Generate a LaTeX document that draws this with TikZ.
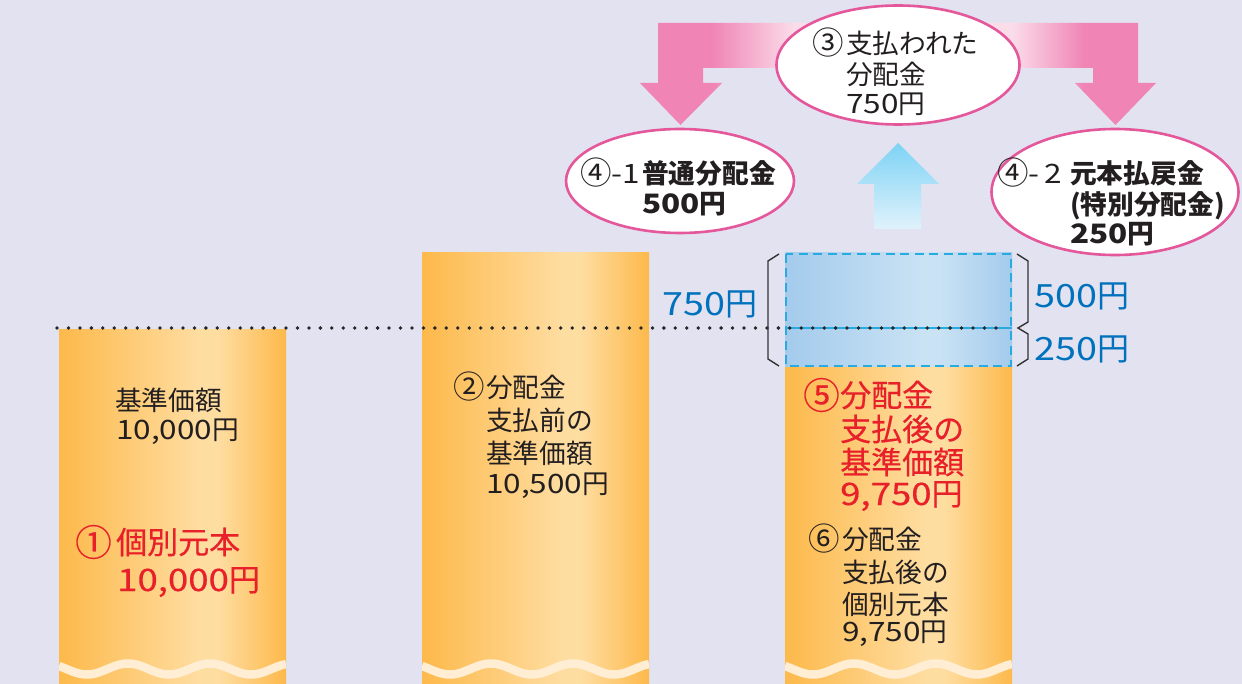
\documentclass[tikz,border=0pt]{standalone}
\usepackage{graphicx}
\usepackage{fontspec}
\setmainfont{Noto Sans CJK JP}
\newfontfamily\jpmed{Noto Sans CJK JP}[FakeBold=0.45]
\usetikzlibrary{shapes.geometric}
\definecolor{bg}{HTML}{E2E2F0}
\definecolor{orE}{HTML}{FDB94B}
\definecolor{orC}{HTML}{FEDDA1}
\definecolor{blE}{HTML}{A4CBEC}
\definecolor{blC}{HTML}{C9E2F4}
\definecolor{pkA}{HTML}{F085B5}
\definecolor{pkL}{HTML}{FBDDEA}
\definecolor{pkB}{HTML}{E4579A}
\definecolor{upT}{HTML}{7DD3F5}
\definecolor{upB}{HTML}{E0F2FB}
\definecolor{cyanl}{HTML}{29ABE2}
\definecolor{ink}{HTML}{231F20}
\definecolor{redt}{HTML}{E8202A}
\definecolor{bluet}{HTML}{0071BC}
\definecolor{wavec}{HTML}{FFEED3}
\newcommand\dg[1]{\scalebox{1.18}[1]{#1}}
\newcommand\cn[1]{\raisebox{-0.07em}{\scalebox{1.18}{#1}}}
\pgfdeclarehorizontalshading{colshade}{100bp}{color(0bp)=(orE); color(25bp)=(orE); color(56bp)=(orC); color(60bp)=(orC); color(75bp)=(orE); color(100bp)=(orE)}
\pgfdeclarehorizontalshading{blshade}{100bp}{color(0bp)=(blE); color(25bp)=(blE); color(55bp)=(blC); color(59bp)=(blC); color(75bp)=(blE); color(100bp)=(blE)}
\pgfdeclarehorizontalshading{pkshade}{100bp}{color(0bp)=(pkA); color(32bp)=(pkA); color(40bp)=(pkL); color(61bp)=(pkL); color(68bp)=(pkA); color(100bp)=(pkA)}
\tikzset{
  colbox/.style={shading=colshade, draw=none},
  blbox/.style={shading=blshade, draw=none},
  oval/.style={ellipse, draw=pkB, line width=2.6pt, fill=white, inner sep=0pt},
  wave/.style={draw=wavec, line width=8.5pt},
  dotline/.style={draw=black!85, line width=3.8pt, line cap=round, dash pattern=on 0pt off 11.45pt},
  brace/.style={draw=black!80, line width=1.4pt, line join=miter},
  txt/.style={anchor=west, inner sep=0pt, text=ink, font=\fontsize{26.7}{26.7}\selectfont},
  txb/.style={txt, font=\fontsize{26.7}{26.7}\selectfont\bfseries},
  rtx/.style={anchor=west, inner sep=0pt, text=redt, font=\fontsize{31}{31}\selectfont\jpmed},
  btx/.style={anchor=west, inner sep=0pt, text=bluet, font=\fontsize{32}{32}\selectfont},
}
\begin{document}
\begin{tikzpicture}[x=1pt,y=-1pt]
\useasboundingbox (0,0) rectangle (1242,684);
\fill[bg] (0,0) rectangle (1242,684);

% pink split arrow
\path[shading=pkshade] (658,23) -- (1138,23) -- (1138,83) -- (1156,83) -- (1115.5,125) -- (1075,83) -- (1093,83) -- (1093,68)
  -- (703,68) -- (703,83) -- (722,83) -- (680.5,125) -- (640,83) -- (658,83) -- cycle;

% ellipses
\node[oval, minimum width=243pt, minimum height=119pt] (top) at (898,65) {};
\node[oval, minimum width=228pt, minimum height=104pt] (left) at (680,181) {};
\node[oval, minimum width=247pt, minimum height=126pt] (right) at (1115,192) {};

% up arrow
\path[top color=upT, bottom color=upB] (898,143) -- (939,184) -- (921,184) -- (921,229) -- (874,229) -- (874,184) -- (857,184) -- cycle;

% columns
\path[colbox] (59,330) rectangle (286,684);
\path[colbox] (422,253) rectangle (649,684);
\path[colbox] (785,367) rectangle (1012,684);
\path[blbox] (785,253) rectangle (1012,367);
\draw[cyanl, line width=2pt, dash pattern=on 9pt off 5.5pt] (786,254) rectangle (1011,366);
\draw[cyanl, line width=2.6pt] (785,328) -- (1012,328);

% waves
\foreach \L in {59,422,785}{
  \pgfmathsetmacro\R{\L+227}
  \begin{scope}
    \clip (\L,600) rectangle (\R,684);
    \draw[wave] plot[domain=0:227, samples=120, smooth] ({\L+\x},{669-5.5*cos((\x-69)*4.39)});
  \end{scope}
}

% dotted line
\coordinate (d1) at (57,328);
\coordinate (d2) at (1004,328);
\draw[dotline] (d1) -- (d2);

% brackets
\draw[brace] (779,254) -- (768,261) -- (768,359) -- (779,366);
\draw[brace] (1017,254) -- (1028,261) -- (1028,322) -- (1018,328) -- (1028,334) -- (1028,359) -- (1017,366);

% blue labels
\node[btx] (b750) at (662,304) {\dg{750}円};
\node[btx] (b500) at (1034,296) {\dg{500}円};
\node[btx] (b250) at (1034,349) {\dg{250}円};

% top ellipse text
\node[txt] (t1) at (812,43) {\cn{③}};
\node[txt] (t2) at (846,43) {支払われた};
\node[txt] (t3) at (846,74) {分配金};
\node[txt] (t4) at (846,104) {\dg{750}円};

% left ellipse text
\node[txt] (l1) at (580,173) {\cn{④}\dg{-1}};
\node[txb] (l2) at (642,173) {普通分配金};
\node[txb] (l3) at (642,204) {\dg{500}円};

% right ellipse text
\node[txt] (r1) at (997,173) {\cn{④}\dg{-\,2}};
\node[txb] (r2) at (1070,173) {元本払戻金};
\node[txb] (r3) at (1070,206) {(特別分配金)};
\node[txb] (r4) at (1070,234) {\dg{250}円};

% column 1 text
\node[txt] (a1) at (115,400) {基準価額};
\node[txt] (a2) at (116,432) {\dg{10,000}円};
\node[rtx] (a3) at (75,542) {\cn{①}};
\node[rtx] (a4) at (116,542) {個別元本};
\node[rtx] (a5) at (117,582) {\dg{10,000}円};

% column 2 text
\node[txt] (c1) at (453,387) {\cn{②}};
\node[txt] (c2) at (486,387) {分配金};
\node[txt] (c3) at (486,420) {支払前の};
\node[txt] (c4) at (486,453) {基準価額};
\node[txt] (c5) at (486,486) {\dg{10,500}円};

% column 3 text
\node[rtx] (e1) at (803,395) {\cn{⑤}};
\node[rtx] (e2) at (840,395) {分配金};
\node[rtx] (e3) at (840,429) {支払後の};
\node[rtx] (e4) at (840,462) {基準価額};
\node[rtx] (e5) at (840,496) {\dg{9,750}円};
\node[txt] (f1) at (808,539) {\cn{⑥}};
\node[txt] (f2) at (842,539) {分配金};
\node[txt] (f3) at (842,572) {支払後の};
\node[txt] (f4) at (842,604) {個別元本};
\node[txt] (f5) at (842,634) {\dg{9,750}円};
\end{tikzpicture}
\end{document}
